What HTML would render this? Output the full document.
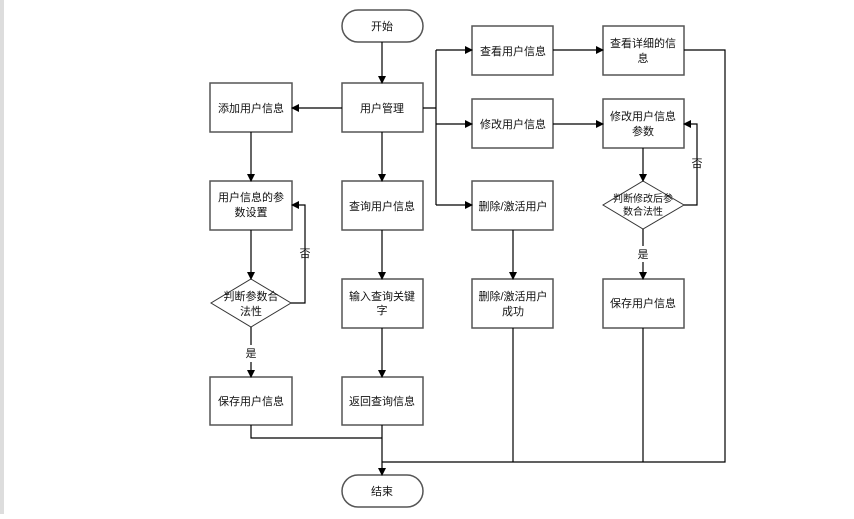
<!DOCTYPE html>
<html><head><meta charset="utf-8"><style>
body{margin:0;background:#fff;width:854px;height:514px;overflow:hidden}
svg text{font-family:"Liberation Sans","Noto Sans CJK SC",sans-serif;font-size:11px;fill:#111;text-anchor:middle}
</style></head><body>
<svg width="854" height="514" viewBox="0 0 854 514" xmlns="http://www.w3.org/2000/svg">
<defs><marker id="a" markerWidth="8" markerHeight="8" refX="7" refY="4" orient="auto" markerUnits="userSpaceOnUse"><path d="M0,0 L8,4 L0,8 z" fill="#000"/></marker></defs>
<rect x="0" y="0" width="4" height="514" fill="#ddd"/>
<g fill="#fff" stroke="#555" stroke-width="1.5">
<rect x="342" y="10" width="81" height="32" rx="16"/>
<rect x="342" y="475" width="81" height="32" rx="16"/>
<rect x="342" y="83" width="81" height="49"/>
<rect x="210" y="83" width="82" height="49"/>
<rect x="210" y="181" width="82" height="49"/>
<rect x="210" y="377" width="82" height="48"/>
<rect x="342" y="181" width="81" height="49"/>
<rect x="342" y="279" width="81" height="49"/>
<rect x="342" y="377" width="81" height="48"/>
<rect x="472" y="26" width="81" height="49"/>
<rect x="472" y="99" width="81" height="49"/>
<rect x="472" y="181" width="81" height="49"/>
<rect x="472" y="279" width="81" height="49"/>
<rect x="603" y="26" width="81" height="49"/>
<rect x="603" y="99" width="81" height="49"/>
<rect x="603" y="279" width="81" height="49"/>
</g>
<g fill="#fff" stroke="#333" stroke-width="1">
<path d="M251,279 L291,303 L251,327 L211,303 z"/>
<path d="M643,181 L684,205 L643,229 L603,205 z"/>
</g>
<g stroke="#000" stroke-width="1.2" fill="none">
<path d="M382,42 V83" marker-end="url(#a)"/>
<path d="M342,108 H292" marker-end="url(#a)"/>
<path d="M251,132 V181" marker-end="url(#a)"/>
<path d="M251,230 V279" marker-end="url(#a)"/>
<path d="M291,303 H305 V205 H292" marker-end="url(#a)"/>
<path d="M251,327 V345 M251,362 V377" marker-end="url(#a)"/>
<path d="M382,132 V181" marker-end="url(#a)"/>
<path d="M382,230 V279" marker-end="url(#a)"/>
<path d="M382,328 V377" marker-end="url(#a)"/>
<path d="M423,108 H436 M436,50 V205"/>
<path d="M436,50 H472" marker-end="url(#a)"/>
<path d="M436,124 H472" marker-end="url(#a)"/>
<path d="M436,205 H472" marker-end="url(#a)"/>
<path d="M553,50 H603" marker-end="url(#a)"/>
<path d="M553,124 H603" marker-end="url(#a)"/>
<path d="M513,230 V279" marker-end="url(#a)"/>
<path d="M643,148 V181" marker-end="url(#a)"/>
<path d="M684,205 H697 V124 H684" marker-end="url(#a)"/>
<path d="M643,229 V246 M643,262 V279" marker-end="url(#a)"/>
<path d="M684,50 H725 V462 H382"/>
<path d="M251,425 V438 H382"/>
<path d="M513,328 V462 M643,328 V462"/>
<path d="M382,425 V475" marker-end="url(#a)"/>
</g>
<text x="382" y="30">开始</text>
<text x="382" y="495">结束</text>
<text x="382" y="112">用户管理</text>
<text x="251" y="112">添加用户信息</text>
<text x="251" y="201">用户信息的参</text>
<text x="251" y="216">数设置</text>
<text x="251" y="300">判断参数合</text>
<text x="251" y="315">法性</text>
<text x="251" y="357">是</text>
<text x="305" y="257">否</text>
<text x="251" y="405">保存用户信息</text>
<text x="382" y="210">查询用户信息</text>
<text x="382" y="300">输入查询关键</text>
<text x="382" y="314">字</text>
<text x="382" y="405">返回查询信息</text>
<text x="513" y="55">查看用户信息</text>
<text x="513" y="128">修改用户信息</text>
<text x="513" y="210">删除/激活用户</text>
<text x="513" y="300">删除/激活用户</text>
<text x="513" y="315">成功</text>
<text x="643" y="47">查看详细的信</text>
<text x="643" y="62">息</text>
<text x="643" y="120">修改用户信息</text>
<text x="643" y="135">参数</text>
<text x="643" y="202" style="font-size:10px">判断修改后参</text>
<text x="643" y="215" style="font-size:10px">数合法性</text>
<text x="643" y="258">是</text>
<text x="697" y="167">否</text>
<text x="643" y="307">保存用户信息</text>
</svg>
</body></html>
